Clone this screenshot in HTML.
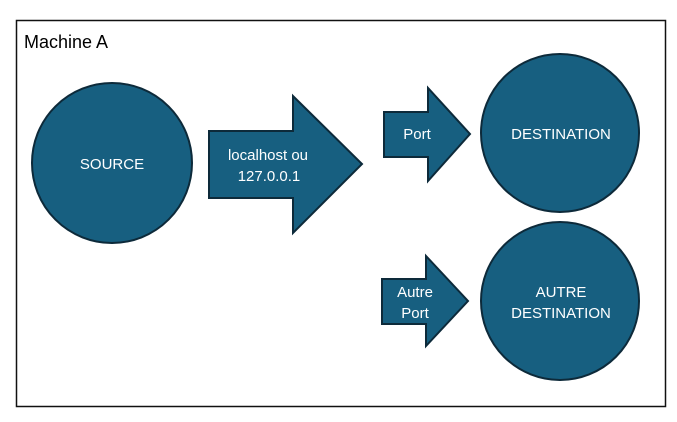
<!DOCTYPE html>
<html><head><style>body{margin:0;background:#fff}</style></head><body>
<svg width="677" height="417" xmlns="http://www.w3.org/2000/svg" font-family="Liberation Sans, sans-serif">
<rect x="16.5" y="20.5" width="649" height="386" fill="#fff" stroke="#111" stroke-width="1.5"/>
<text x="24" y="48" font-size="18" fill="#000">Machine A</text>
<g fill="#175f80" stroke="#0d2a3a" stroke-width="2">
<circle cx="112" cy="163" r="80"/>
<circle cx="560" cy="133" r="79"/>
<circle cx="560" cy="301" r="79"/>
<polygon points="209,131 293,131 293,96 362,164 293,233 293,198 209,198"/>
<polygon points="384,112 428,112 428,88 470,134 428,181 428,157 384,157"/>
<polygon points="382,279 426,279 426,256 468,301 426,346 426,324 382,324"/>
</g>
<g fill="#fff" font-size="15" text-anchor="middle">
<text x="112" y="169">SOURCE</text>
<text x="561" y="139">DESTINATION</text>
<text x="561" y="297">AUTRE</text>
<text x="561" y="318">DESTINATION</text>
<text x="268" y="160">localhost ou</text>
<text x="269" y="181">127.0.0.1</text>
<text x="417" y="139">Port</text>
<text x="415" y="297">Autre</text>
<text x="415" y="318">Port</text>
</g>
</svg>
</body></html>
